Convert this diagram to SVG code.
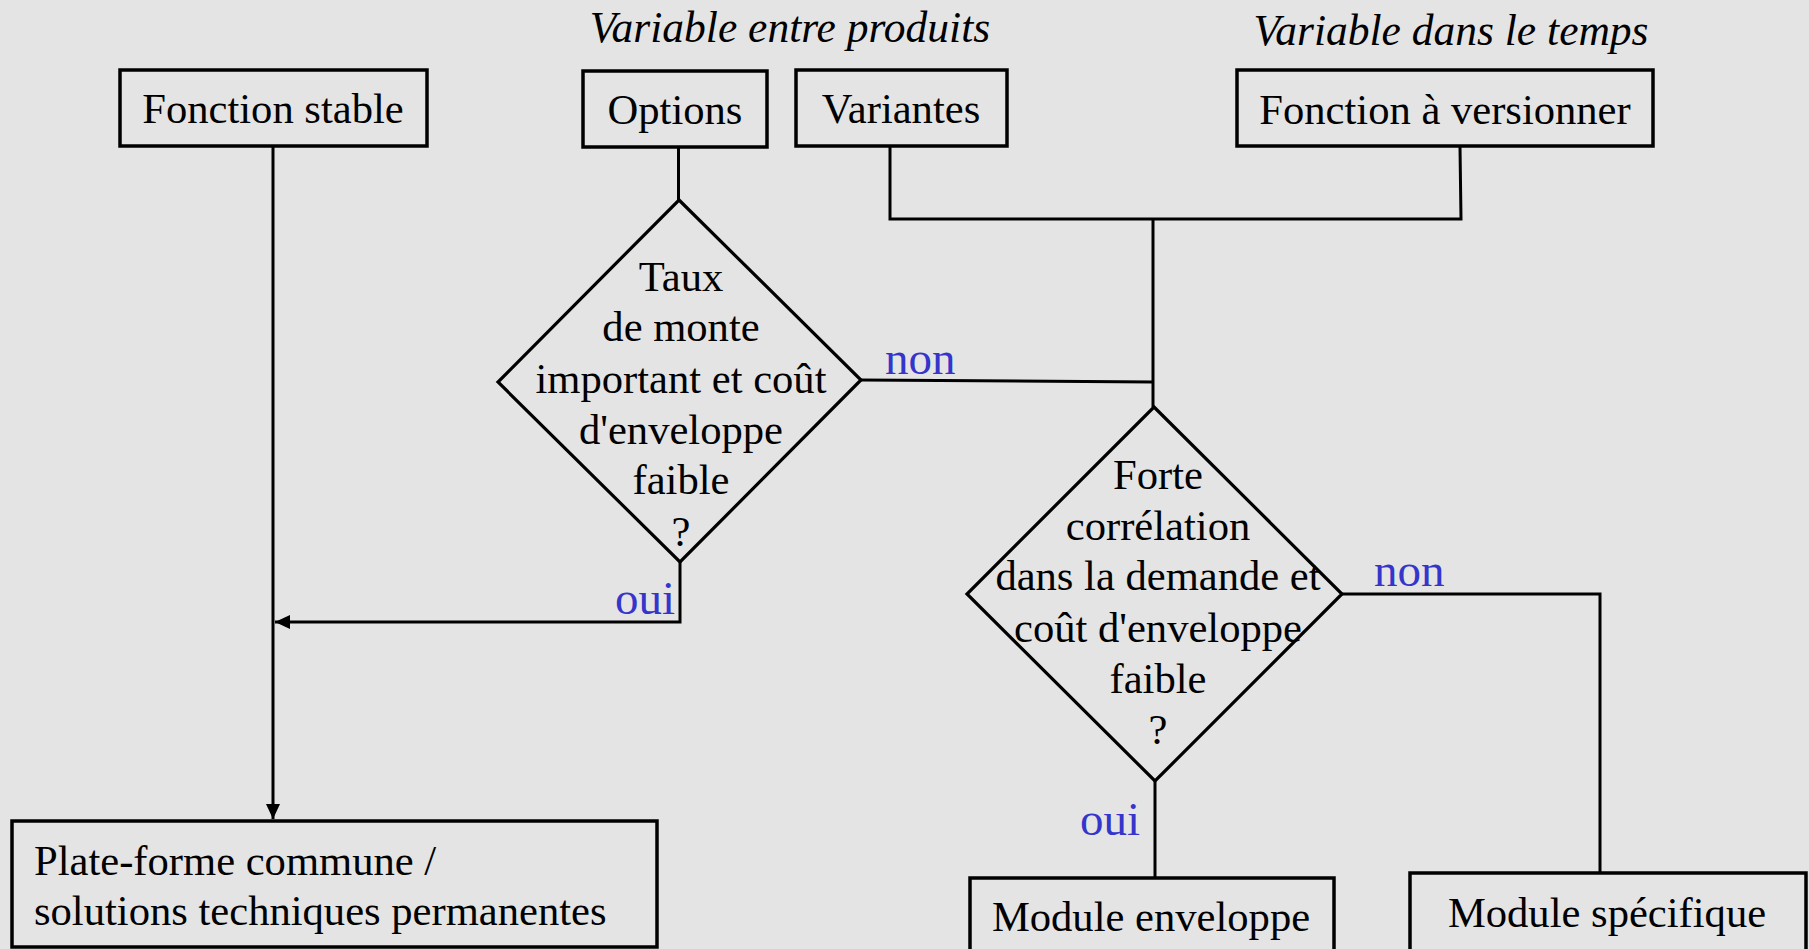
<svg xmlns="http://www.w3.org/2000/svg" width="1809" height="949" viewBox="0 0 1809 949">
<defs>
<style>
.box{fill:none;stroke:#000;stroke-width:3.5}
.dia{fill:none;stroke:#000;stroke-width:3.2;stroke-linejoin:miter}
.ln{fill:none;stroke:#000;stroke-width:3}
.t{font-family:"Liberation Serif","Times New Roman",serif;font-size:42.6px;fill:#000}
.c{text-anchor:middle}
.it{font-family:"Liberation Serif","Times New Roman",serif;font-size:43.5px;font-style:italic;fill:#000;text-anchor:middle}
.lb{font-family:"Liberation Serif","Times New Roman",serif;font-size:47px;fill:#3535cc}
</style>
<marker id="ah" viewBox="0 0 15 14" markerWidth="15" markerHeight="14" refX="15" refY="7" orient="auto" markerUnits="userSpaceOnUse">
<path d="M0,0 L15,7 L0,14 z" fill="#000"/>
</marker>
</defs>
<rect width="1809" height="949" fill="#e4e4e4"/>
<text class="it" x="790" y="42">Variable entre produits</text>
<text class="it" x="1451" y="45">Variable dans le temps</text>
<g id="connectors">
<path class="ln" d="M273 146 L273 819" marker-end="url(#ah)"/>
<path class="ln" d="M680 562 L680 622 L275 622" marker-end="url(#ah)"/>
<path class="ln" d="M678.5 147 L678.5 200"/>
<path class="ln" d="M890 146 L890 219 L1461 219 L1460 147"/>
<path class="ln" d="M1153 219 L1153 407"/>
<path class="ln" d="M861 380 L1153 382"/>
<path class="ln" d="M1342 594 L1600 594 L1600 873"/>
<path class="ln" d="M1155 781 L1155 878"/>
<text class="lb" x="885" y="374">non</text>
<text class="lb" x="615" y="614">oui</text>
<text class="lb" x="1374" y="586">non</text>
<text class="lb" x="1080" y="835">oui</text>
</g>
<g id="fonction-stable">
<rect class="box" x="120" y="70" width="307" height="76"/>
<text class="t c" x="273" y="123">Fonction stable</text>
</g>
<g id="options">
<rect class="box" x="583" y="71" width="184" height="76"/>
<text class="t c" x="675" y="124">Options</text>
</g>
<g id="variantes">
<rect class="box" x="796" y="70" width="211" height="76"/>
<text class="t c" x="901" y="123">Variantes</text>
</g>
<g id="fonction-versionner">
<rect class="box" x="1237" y="70" width="416" height="76"/>
<text class="t c" x="1445" y="124">Fonction à versionner</text>
</g>
<g id="decision-taux">
<path class="dia" d="M679 200 L861 380 L680 562 L498 382 Z"/>
<text class="t c" x="681" y="291">Taux</text>
<text class="t c" x="681" y="341">de monte</text>
<text class="t c" x="681" y="393">important et coût</text>
<text class="t c" x="681" y="444">d'enveloppe</text>
<text class="t c" x="681" y="494">faible</text>
<text class="t c" x="681" y="546">?</text>
</g>
<g id="decision-correlation">
<path class="dia" d="M1154 407 L1342 594 L1155 781 L967 594 Z"/>
<text class="t c" x="1158" y="489">Forte</text>
<text class="t c" x="1158" y="540">corrélation</text>
<text class="t c" x="1158" y="590">dans la demande et</text>
<text class="t c" x="1158" y="642">coût d'enveloppe</text>
<text class="t c" x="1158" y="693">faible</text>
<text class="t c" x="1158" y="744">?</text>
</g>
<g id="plate-forme">
<rect class="box" x="12" y="821" width="645" height="126"/>
<text class="t" x="34" y="875">Plate-forme commune /</text>
<text class="t" x="34" y="925">solutions techniques permanentes</text>
</g>
<g id="module-enveloppe">
<rect class="box" x="970" y="878" width="364" height="80"/>
<text class="t c" x="1151" y="931">Module enveloppe</text>
</g>
<g id="module-specifique">
<rect class="box" x="1410" y="873" width="396" height="85"/>
<text class="t c" x="1607" y="927">Module spécifique</text>
</g>
</svg>
